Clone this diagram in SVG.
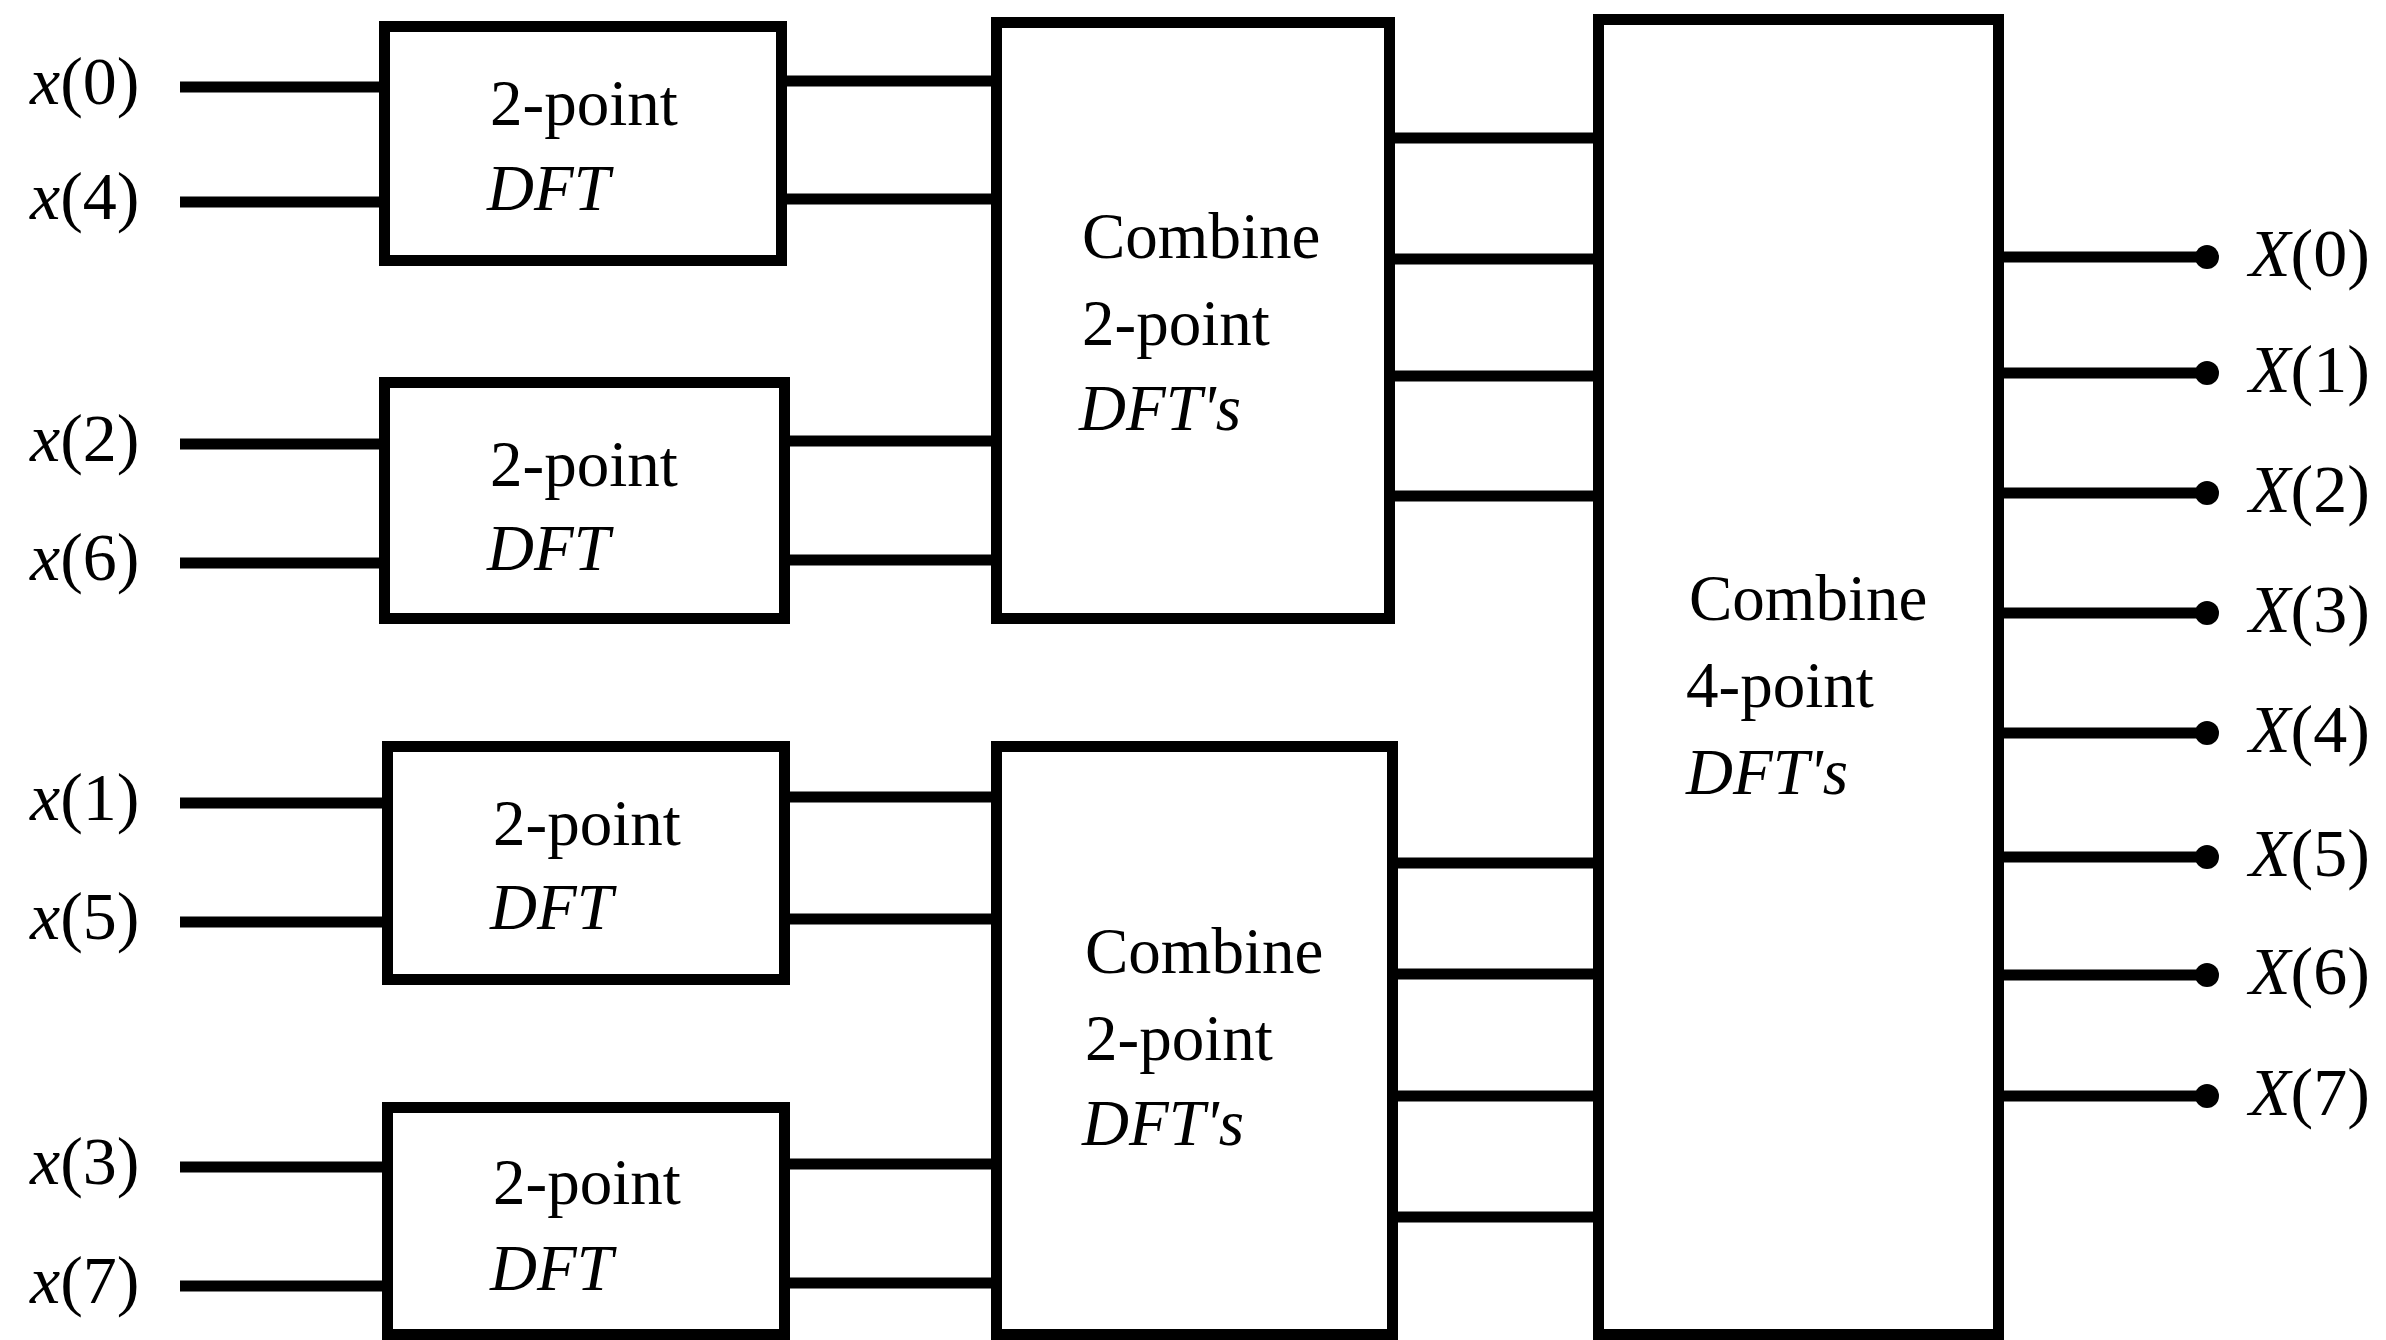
<svg xmlns="http://www.w3.org/2000/svg" width="2386" height="1340" viewBox="0 0 2386 1340">
<style>
.box{fill:#fff;stroke:#000;stroke-width:11}
.w{stroke:#000;stroke-width:11;fill:none}
.t{font-family:"Liberation Serif","Times New Roman",serif;font-size:65px;fill:#000}
.lab{font-family:"Liberation Serif","Times New Roman",serif;font-size:68px;fill:#000}
.i{font-style:italic}
</style>
<rect width="2386" height="1340" fill="#fff"/>
<g id="connectors">
<path class="w" d="M180 87H384M180 202H384M180 444H384M180 563H384M180 803H387M180 922H387M180 1167H387M180 1286H387"/>
<path class="w" d="M782 81H996M782 199H996M785 441H996M785 560H996M785 797H996M785 919H996M785 1164H996M785 1283H996"/>
<path class="w" d="M1390 138H1598M1390 259H1598M1390 376H1598M1390 496H1598M1393 863H1598M1393 974H1598M1393 1096H1598M1393 1217H1598"/>
<path class="w" d="M1999 257H2207M1999 373H2207M1999 493H2207M1999 613H2207M1999 733H2207M1999 857H2207M1999 975H2207M1999 1096H2207"/>
<g fill="#000">
<circle cx="2207" cy="257" r="12"/><circle cx="2207" cy="373" r="12"/><circle cx="2207" cy="493" r="12"/><circle cx="2207" cy="613" r="12"/>
<circle cx="2207" cy="733" r="12"/><circle cx="2207" cy="857" r="12"/><circle cx="2207" cy="975" r="12"/><circle cx="2207" cy="1096" r="12"/>
</g>
</g>
<g id="inputs" class="lab">
<text x="30" y="104"><tspan class="i">x</tspan>(0)</text>
<text x="30" y="219"><tspan class="i">x</tspan>(4)</text>
<text x="30" y="461"><tspan class="i">x</tspan>(2)</text>
<text x="30" y="580"><tspan class="i">x</tspan>(6)</text>
<text x="30" y="820"><tspan class="i">x</tspan>(1)</text>
<text x="30" y="939"><tspan class="i">x</tspan>(5)</text>
<text x="30" y="1184"><tspan class="i">x</tspan>(3)</text>
<text x="30" y="1303"><tspan class="i">x</tspan>(7)</text>
</g>
<g id="outputs" class="lab">
<text x="2249" y="276"><tspan class="i">X</tspan>(0)</text>
<text x="2249" y="392"><tspan class="i">X</tspan>(1)</text>
<text x="2249" y="512"><tspan class="i">X</tspan>(2)</text>
<text x="2249" y="632"><tspan class="i">X</tspan>(3)</text>
<text x="2249" y="752"><tspan class="i">X</tspan>(4)</text>
<text x="2249" y="876"><tspan class="i">X</tspan>(5)</text>
<text x="2249" y="994"><tspan class="i">X</tspan>(6)</text>
<text x="2249" y="1115"><tspan class="i">X</tspan>(7)</text>
</g>
<g id="dft1">
<rect class="box" x="384.5" y="26.5" width="397" height="234"/>
<text class="t" x="490" y="125">2-point</text>
<text class="t i" x="487" y="210">DFT</text>
</g>
<g id="dft2">
<rect class="box" x="384.5" y="382.5" width="400" height="236"/>
<text class="t" x="490" y="486">2-point</text>
<text class="t i" x="487" y="570">DFT</text>
</g>
<g id="dft3">
<rect class="box" x="387.5" y="746.5" width="397" height="233"/>
<text class="t" x="493" y="845">2-point</text>
<text class="t i" x="490" y="929">DFT</text>
</g>
<g id="dft4">
<rect class="box" x="387.5" y="1107.5" width="397" height="227"/>
<text class="t" x="493" y="1204">2-point</text>
<text class="t i" x="490" y="1290">DFT</text>
</g>
<g id="combine2a">
<rect class="box" x="996.5" y="22.5" width="393" height="596"/>
<text class="t" x="1082" y="258">Combine</text>
<text class="t" x="1082" y="345">2-point</text>
<text class="t i" x="1079" y="430">DFT's</text>
</g>
<g id="combine2b">
<rect class="box" x="996.5" y="746.5" width="396" height="588"/>
<text class="t" x="1085" y="973">Combine</text>
<text class="t" x="1085" y="1060">2-point</text>
<text class="t i" x="1082" y="1145">DFT's</text>
</g>
<g id="combine4">
<rect class="box" x="1598.5" y="19.5" width="400" height="1315"/>
<text class="t" x="1689" y="620">Combine</text>
<text class="t" x="1686" y="707">4-point</text>
<text class="t i" x="1686" y="794">DFT's</text>
</g>
</svg>
